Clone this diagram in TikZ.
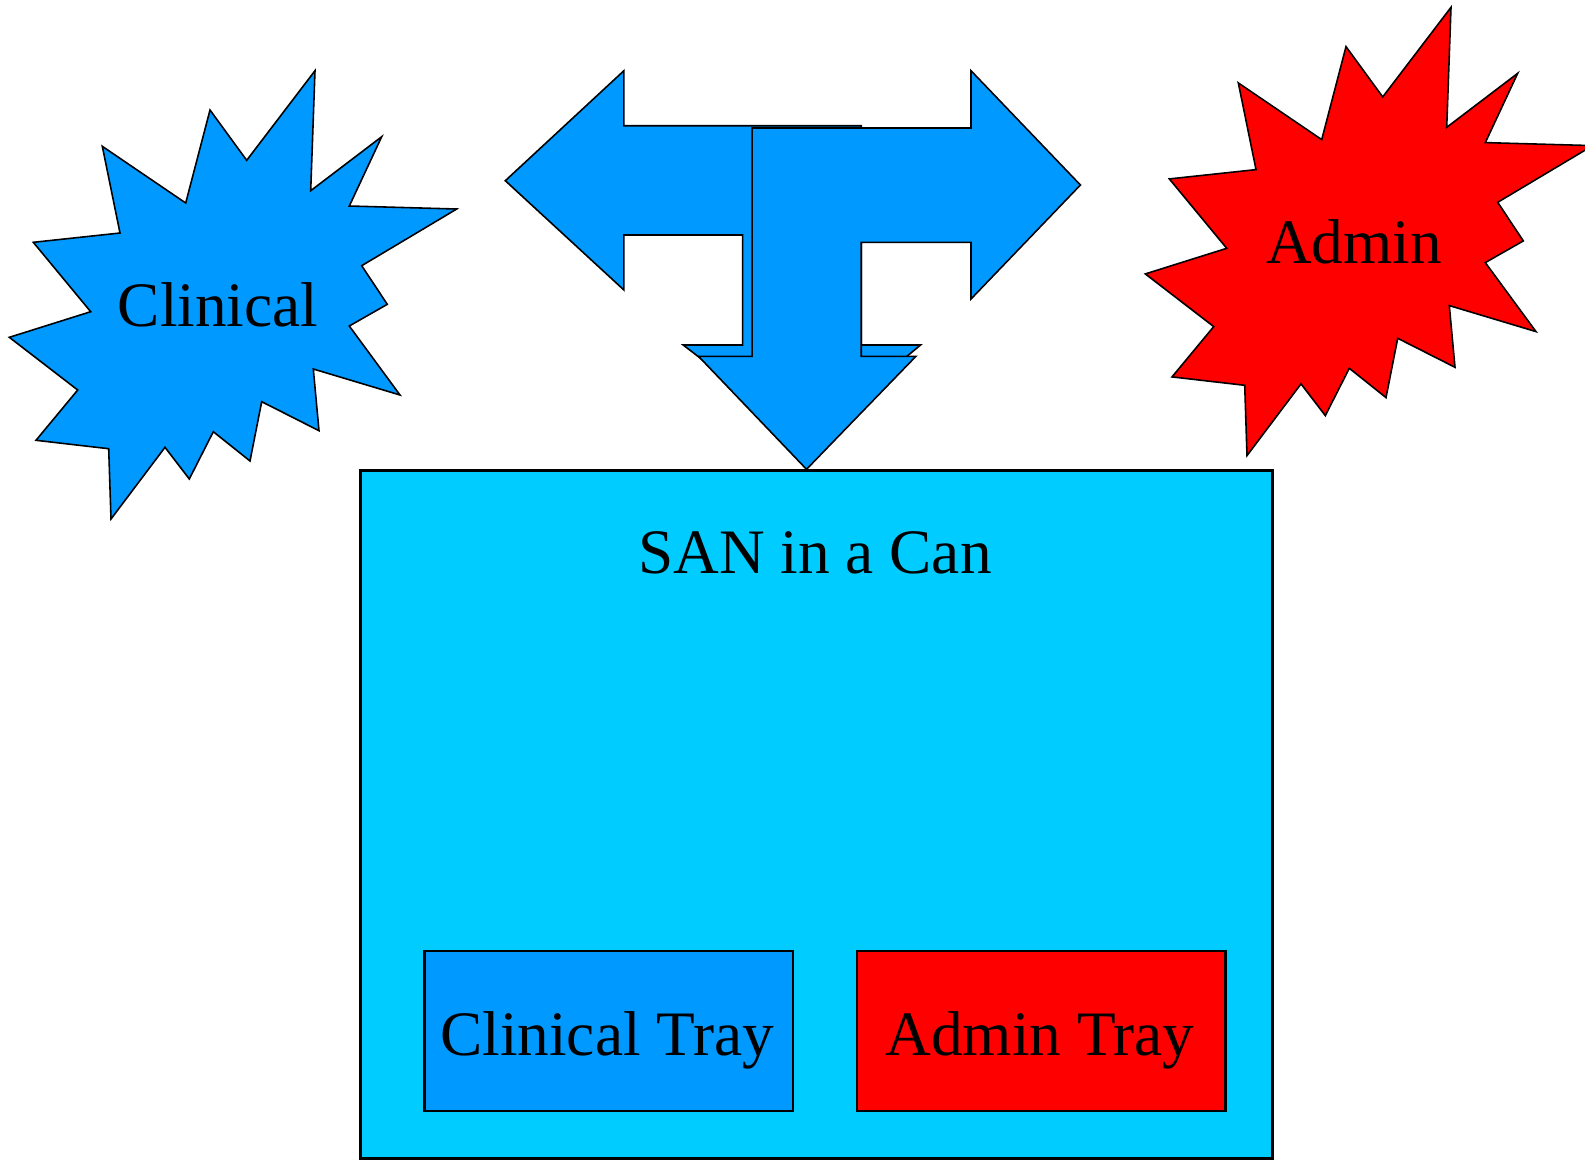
\documentclass[tikz,border=0pt]{standalone}
\usepackage{fontspec}
\setmainfont{Liberation Serif}
\usepackage{tikz}

\definecolor{clinblue}{RGB}{0,153,255}
\definecolor{canblue}{RGB}{0,204,255}
\definecolor{adminred}{RGB}{255,0,0}

\tikzset{
	outline/.style = {draw = black, line width = 0.45pt, line join = miter},
	tray/.style = {draw = black, line width = 0.7pt, minimum width = 3.68cm, minimum height = 1.6cm, inner sep = 0pt},
	big/.style = {font = \fontsize{18}{22}\selectfont, inner sep = 0pt, anchor = base}
}

\begin{document}
\begin{tikzpicture}[x = 0.01cm, y = -0.01cm]
	\useasboundingbox (0,0) rectangle (1585,1160);

	% the can and its trays
	\node [tray, fill = canblue, minimum width = 9.116cm, minimum height = 6.876cm] (san) at (816.5,814.5) {};
	\node [big] (santext) at (815,573.3) {SAN in a Can};
	\node [tray, fill = clinblue] (ctray) at (608.8,1031) {};
	\node [tray, fill = adminred] (atray) at (1041.2,1031) {};
	\node [big] (ctraytext) at (607,1055) {Clinical Tray};
	\node [big] (atraytext) at (1040,1055) {Admin Tray};

	% bursts
	\foreach \dx/\dy/\col/\name in {0/0/clinblue/Clinical, 1136/-63.4/adminred/Admin} {
		\begin{scope}[shift = {(\dx,\dy)}]
			\draw [outline, fill = \col] (315,70.7) -- (310.7,190.7) -- (381.7,136.7) -- (349.3,206) -- (456.7,209)
				-- (361.7,265.7) -- (387.3,304.3) -- (349.3,326) -- (400,395) -- (313.3,369) -- (319,430.7)
				-- (261.7,401.7) -- (250,461) -- (213.3,431.7) -- (189.3,479) -- (165,447.3) -- (111,519)
				-- (108.7,448.7) -- (36,440.3) -- (77.7,390) -- (9.3,337.3) -- (90.7,311.7) -- (33.3,242.3)
				-- (120,233) -- (102.3,146.3) -- (185.7,203) -- (210,110) -- (246.7,160.3) -- cycle;
			\node [big] (\name) at (218,326.7) {\name};
		\end{scope}
	}

	% three way arrow
	\draw [outline, fill = clinblue] (505.3,180.7) -- (623.9,70.7) -- (623.9,125.7) -- (861.2,125.7) -- (861.2,345)
		-- (920.5,345) -- (806.5,440) -- (683.2,345) -- (742.6,345) -- (742.6,235) -- (623.9,235) -- (623.9,290) -- cycle;
	\draw [outline, fill = clinblue] (752.1,128) -- (971,128) -- (971,70.7) -- (1080.4,185) -- (971,299) -- (971,242.3)
		-- (861.2,242.3) -- (861.2,356.3) -- (915.9,356.3) -- (806.5,469.3) -- (698.5,356.3) -- (752.1,356.3) -- cycle;
\end{tikzpicture}
\end{document}
